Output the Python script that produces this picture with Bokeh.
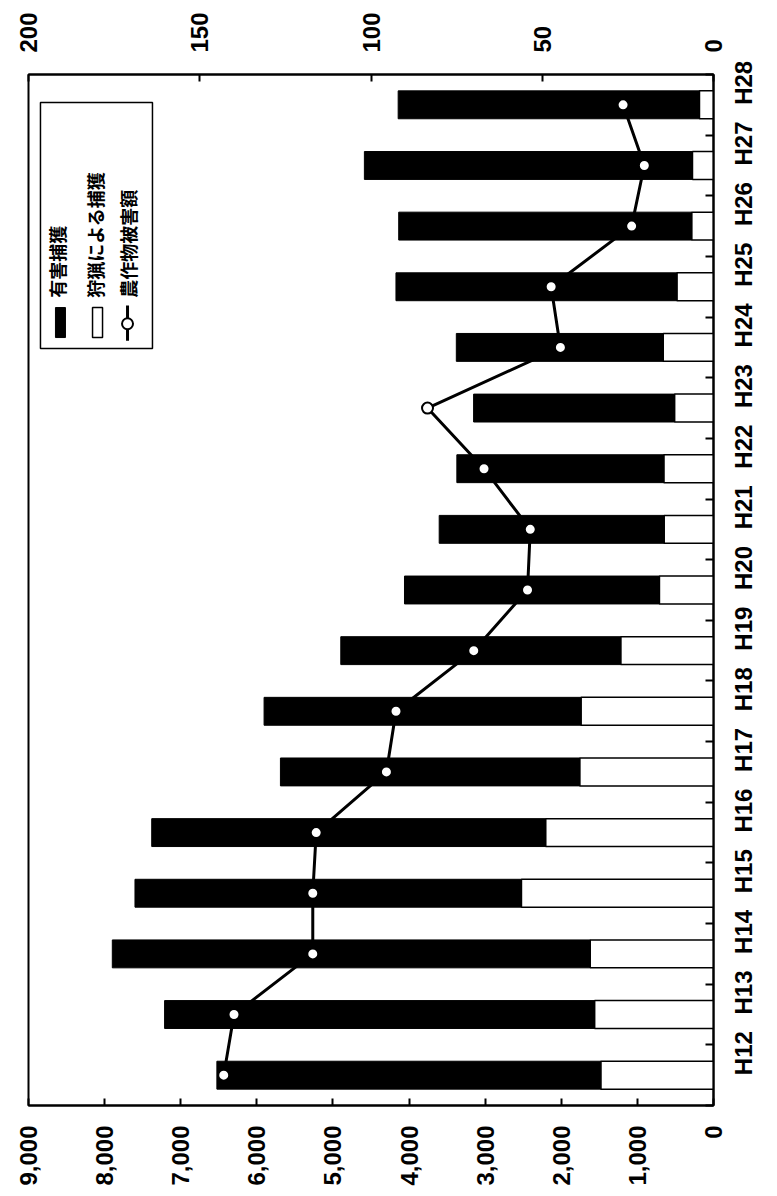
import math
from bokeh.plotting import figure
from bokeh.models import Range1d, LinearAxis, FixedTicker, NumeralTickFormatter, ColumnDataSource
from bokeh.core.properties import value
from bokeh.embed import file_html
from bokeh.resources import INLINE

# ---- data ----
years = ["H12", "H13", "H14", "H15", "H16", "H17", "H18", "H19", "H20",
         "H21", "H22", "H23", "H24", "H25", "H26", "H27", "H28"]
hunting = [1480, 1562, 1619, 2523, 2205, 1757, 1740, 1218, 710,
           648, 652, 511, 660, 480, 286, 276, 184]          # 狩猟による捕獲
harmful = [5045, 5650, 6280, 5078, 5176, 3933, 4165, 3679, 3350,
           2956, 2720, 2641, 2719, 3692, 3850, 4311, 3959]   # 有害捕獲
damage = [143, 140, 117, 117, 116, 95.5, 92.7, 70, 54.3,
          53.5, 67, 83.5, 44.7, 47.4, 23.9, 20.2, 26.4]      # 農作物被害額
count_ticks = [0, 1000, 2000, 3000, 4000, 5000, 6000, 7000, 8000, 9000]
damage_ticks = [0, 50, 100, 150, 200]
legend_labels = ["有害捕獲", "狩猟による捕獲", "農作物被害額"]

# ---- derived ----
ypos = [i + 0.5 for i in range(len(years))]
total = [h + k for h, k in zip(hunting, harmful)]
src = ColumnDataSource(dict(y=ypos, hunting=hunting, total=total, damage=damage))

FONT = "Liberation Sans"
FS = "24px"

p = figure(width=775, height=1190, output_backend="svg", toolbar_location=None,
           x_range=Range1d(9000, 0), y_range=Range1d(0, len(years)),
           y_axis_location="right",
           min_border_left=28, min_border_right=62, min_border_top=74, min_border_bottom=85)
p.extra_x_ranges = {"dmg": Range1d(200, 0)}

p.xgrid.visible = False
p.ygrid.visible = False
p.outline_line_color = "black"
p.outline_line_width = 2
p.background_fill_color = "white"
p.border_fill_color = "white"

# bars
p.hbar(y="y", left=0, right="hunting", height=0.46, source=src,
       fill_color="white", line_color="black", line_width=1.5)
p.hbar(y="y", left="hunting", right="total", height=0.46, source=src,
       fill_color="black", line_color="black", line_width=1)

# line
p.line(x="damage", y="y", source=src, x_range_name="dmg", line_color="black", line_width=3)
p.scatter(x="damage", y="y", source=src, x_range_name="dmg", size=11,
          fill_color="white", line_color="black", line_width=2)

def style_axis(ax):
    ax.axis_line_width = 2
    ax.axis_line_color = "black"
    ax.major_tick_in = 7
    ax.major_tick_out = 0
    ax.major_tick_line_width = 2
    ax.minor_tick_in = 0
    ax.minor_tick_out = 0
    ax.major_label_text_font = FONT
    ax.major_label_text_font_size = FS
    ax.major_label_text_font_style = "bold"
    ax.major_label_text_color = "black"
    ax.major_label_orientation = math.pi / 2

# bottom axis (counts)
xa = p.xaxis[0]
xa.ticker = FixedTicker(ticks=count_ticks)
xa.formatter = NumeralTickFormatter(format="0,0")
style_axis(xa)
xa.major_label_standoff = 20

# top axis (damage)
ta = LinearAxis(x_range_name="dmg", ticker=FixedTicker(ticks=damage_ticks))
style_axis(ta)
ta.major_label_standoff = 22
p.add_layout(ta, "above")

# right axis (years)
ya = p.yaxis[0]
ya.ticker = FixedTicker(ticks=ypos, minor_ticks=list(range(len(years) + 1)))
ya.major_label_overrides = {y: lab for y, lab in zip(ypos, years)}
style_axis(ya)
ya.major_tick_in = 0
ya.minor_tick_in = 8
ya.minor_tick_line_width = 2
ya.major_label_standoff = 30

# ---- legend (rotated, drawn manually) ----
p.rect(x=[8107], y=[14.51], width=112, height=246, width_units="screen", height_units="screen",
       fill_color="white", line_color="black", line_width=1.5)
p.rect(x=[8580], y=[12.91], width=10, height=30, width_units="screen", height_units="screen",
       fill_color="black", line_color="black", line_width=1)
p.rect(x=[8093], y=[12.91], width=10, height=30, width_units="screen", height_units="screen",
       fill_color="white", line_color="black", line_width=1.5)
p.segment(x0=[7699], y0=[13.19], x1=[7699], y1=[12.61], line_color="black", line_width=3)
p.scatter(x=[7699], y=[12.89], size=11, fill_color="white", line_color="black", line_width=2)
p.text(x=[8619, 8120, 7699], y=[13.32] * 3, text=legend_labels, angle=math.pi / 2,
       text_align="left", text_baseline="middle", text_font=value("Noto Sans CJK JP"),
       text_font_size="18px", text_font_style="bold", text_color="black")

open("out.html", "w").write(file_html(p, INLINE))
